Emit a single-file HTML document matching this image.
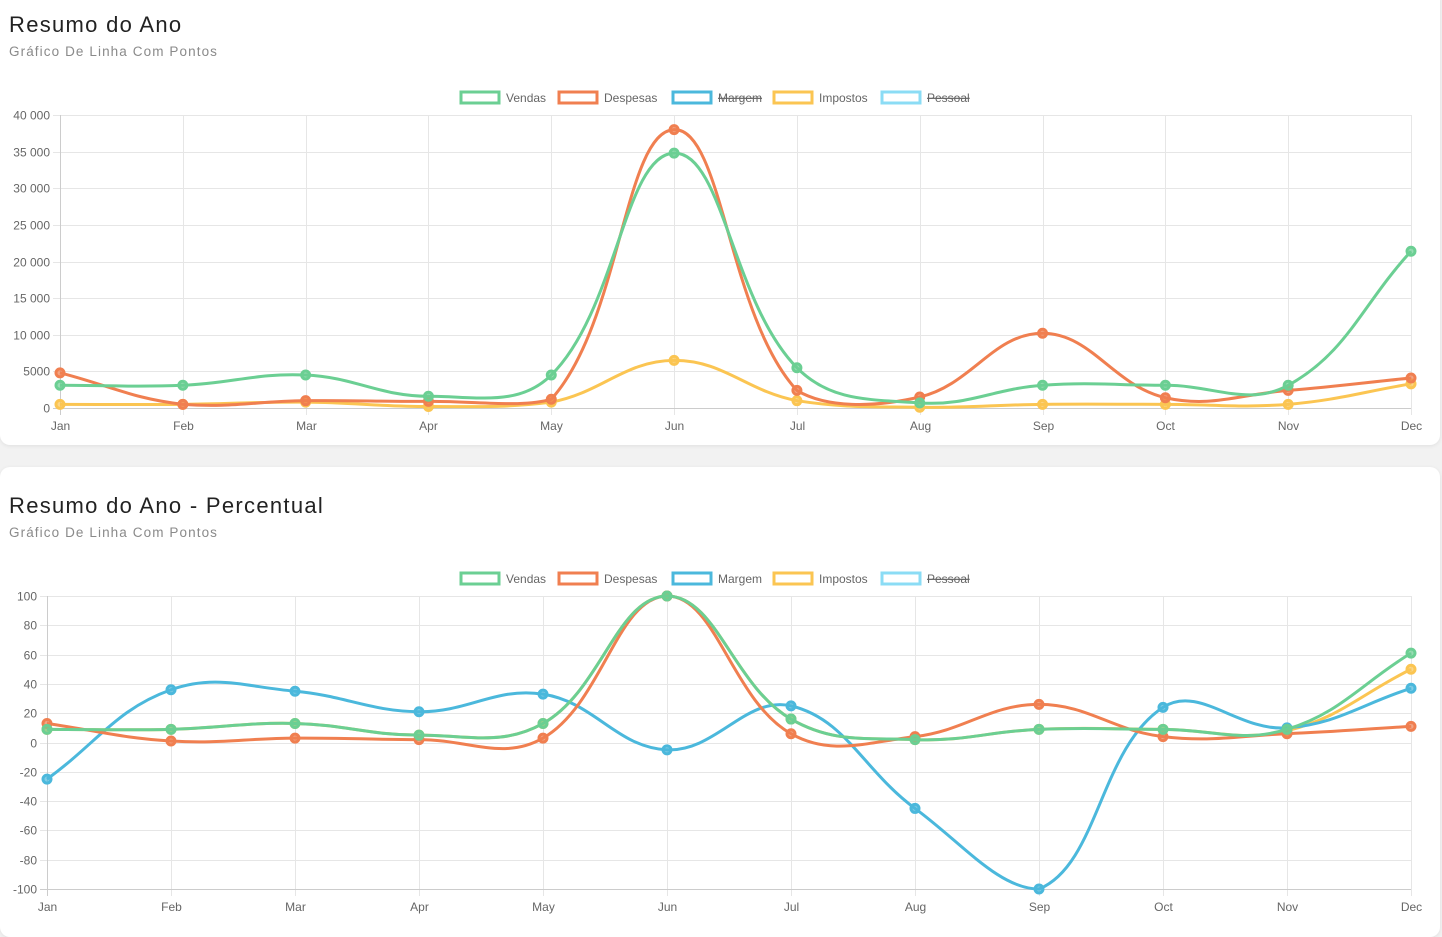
<!DOCTYPE html>
<html><head><meta charset="utf-8"><style>
body{margin:0;width:1442px;height:918px;background:#f2f2f2;font-family:"Liberation Sans",sans-serif;overflow:hidden;position:relative}
.card{position:absolute;left:0;width:1440px;background:#fff;border-radius:10px;box-shadow:0 1px 4px rgba(0,0,0,0.08)}
.title{position:absolute;left:9px;font-size:22px;color:#222;letter-spacing:1.3px}
.sub{position:absolute;left:9px;font-size:13.5px;color:#8a8a8a;letter-spacing:1.1px}
svg{position:absolute;left:0;top:0}
</style></head><body>
<div class="card" style="top:-10px;height:455px"></div>
<div class="card" style="top:467px;height:470px"></div>
<div class="title" style="top:12px">Resumo do Ano</div>
<div class="sub" style="top:44px">Gráfico De Linha Com Pontos</div>
<div class="title" style="top:493px">Resumo do Ano - Percentual</div>
<div class="sub" style="top:525px">Gráfico De Linha Com Pontos</div>
<svg id="svg" width="1442" height="918"></svg>
<script>
const months=["Jan","Feb","Mar","Apr","May","Jun","Jul","Aug","Sep","Oct","Nov","Dec"];
const seriesNames=["Vendas","Despesas","Margem","Impostos","Pessoal"];
const seriesColors=["#6bcf93","#f07f50","#4bb8dc","#fbc552","#8bdcf5"];
const vendas1=[3100,3100,4500,1600,4500,34800,5500,700,3100,3100,3100,21400];
const despesas1=[4800,500,1000,900,1200,38000,2400,1500,10200,1400,2400,4100];
const impostos1=[500,500,800,200,800,6500,1000,100,500,500,500,3300];
const yTicks1=[0,5000,10000,15000,20000,25000,30000,35000,40000];
const yTickLabels1=["0","5000","10 000","15 000","20 000","25 000","30 000","35 000","40 000"];
const vendas2=[9,9,13,5,13,100,16,2,9,9,9,61];
const despesas2=[13,1,3,2,3,100,6,4,26,4,6,11];
const margem2=[-25,36,35,21,33,-5,25,-45,-100,24,10,37];
const impostos2=[9,9,13,5,13,100,16,2,9,9,8,50];
const yTicks2=[-100,-80,-60,-40,-20,0,20,40,60,80,100];
const yTickLabels2=["-100","-80","-60","-40","-20","0","20","40","60","80","100"];

const svg=document.getElementById('svg');
const NS="http://www.w3.org/2000/svg";
function mk(tag,attrs,parent){const e=document.createElementNS(NS,tag);for(const k in attrs)e.setAttribute(k,attrs[k]);(parent||svg).appendChild(e);return e;}

function chart(cfg){
  const {x0,x1,yTop,yBot,min,max,ticks,labels,series,hidden,legendY,id}=cfg;
  const g=mk('g',{});
  
  
  const xs=i=>x0+(x1-x0)*i/(months.length-1);
  const ys=v=>yBot-(v-min)/(max-min)*(yBot-yTop);
  const clampY=y=>Math.max(yTop,Math.min(yBot,y));
  ticks.forEach((t,i)=>{
    const y=Math.round(ys(t))+0.5;
    const l=mk('line',{x1:x0-7,x2:x1,y1:y,y2:y,stroke:'#e6e6e6','stroke-width':1},g);
    
    
    const tx=mk('text',{x:x0-10,y:y+4,'text-anchor':'end','font-size':12,fill:'#666'},g);
    tx.textContent=labels[i];
    
    
  });
  months.forEach((m,i)=>{
    const x=Math.round(xs(i))+0.5;
    const l=mk('line',{x1:x,x2:x,y1:yTop,y2:yBot+7,stroke:i===0?'#ccc':'#e6e6e6','stroke-width':1},g);
    
    
    const tx=mk('text',{x:x,y:yBot+22,'text-anchor':'middle','font-size':12,fill:'#666'},g);
    tx.textContent=m;
    
    
  });
  mk('line',{x1:x0-7,x2:x1,y1:yBot+0.5,y2:yBot+0.5,stroke:'#ccc'},g);
  const lx=[460,558,672,773,881];
  seriesNames.forEach((n,i)=>{
    const lg=mk('g',{},g);
    
    
    mk('rect',{x:lx[i]+1,y:legendY-5,width:38,height:11,fill:'#fff',stroke:seriesColors[i],'stroke-width':3},lg);
    const t=mk('text',{x:lx[i]+46,y:legendY+5,'font-size':12,fill:'#666'},lg);
    t.textContent=n;
    if(hidden.includes(i))t.setAttribute('text-decoration','line-through');
  });
  for(let s=series.length-1;s>=0;s--){
    const [idx,vals]=series[s];
    const pts=vals.map((v,i)=>({x:xs(i),y:ys(v)}));
    const t=0.4;let d=`M${pts[0].x},${pts[0].y}`;
    const cps=pts.map((p,i)=>{
      const pr=pts[Math.max(i-1,0)],nx=pts[Math.min(i+1,pts.length-1)];
      const d01=Math.hypot(p.x-pr.x,p.y-pr.y),d12=Math.hypot(nx.x-p.x,nx.y-p.y);
      let s01=d01/(d01+d12),s12=d12/(d01+d12);if(isNaN(s01))s01=0;if(isNaN(s12))s12=0;
      const fa=t*s01,fb=t*s12;
      return {px:p.x-fa*(nx.x-pr.x),py:clampY(p.y-fa*(nx.y-pr.y)),nx:p.x+fb*(nx.x-pr.x),ny:clampY(p.y+fb*(nx.y-pr.y))};
    });
    for(let i=1;i<pts.length;i++){
      d+=` C${cps[i-1].nx},${cps[i-1].ny} ${cps[i].px},${cps[i].py} ${pts[i].x},${pts[i].y}`;
    }
    const col=seriesColors[idx];
    const sg=mk('g',{},g);
    
    
    mk('path',{d:d,fill:'none',stroke:col,'stroke-width':3},sg);
    pts.forEach(p=>{
      const c=mk('circle',{cx:p.x,cy:p.y,r:4,fill:col,'fill-opacity':0.7,stroke:col,'stroke-width':3},sg);
      
      
    });
  }
}
chart({id:'annual',x0:60,x1:1411,yTop:115,yBot:408,min:0,max:40000,ticks:yTicks1,labels:yTickLabels1,
  series:[[0,vendas1],[1,despesas1],[3,impostos1]],hidden:[2,4],legendY:97});
chart({id:'percent',x0:47,x1:1411,yTop:596,yBot:889,min:-100,max:100,ticks:yTicks2,labels:yTickLabels2,
  series:[[0,vendas2],[1,despesas2],[2,margem2],[3,impostos2]],hidden:[4],legendY:578});
</script>
</body></html>
